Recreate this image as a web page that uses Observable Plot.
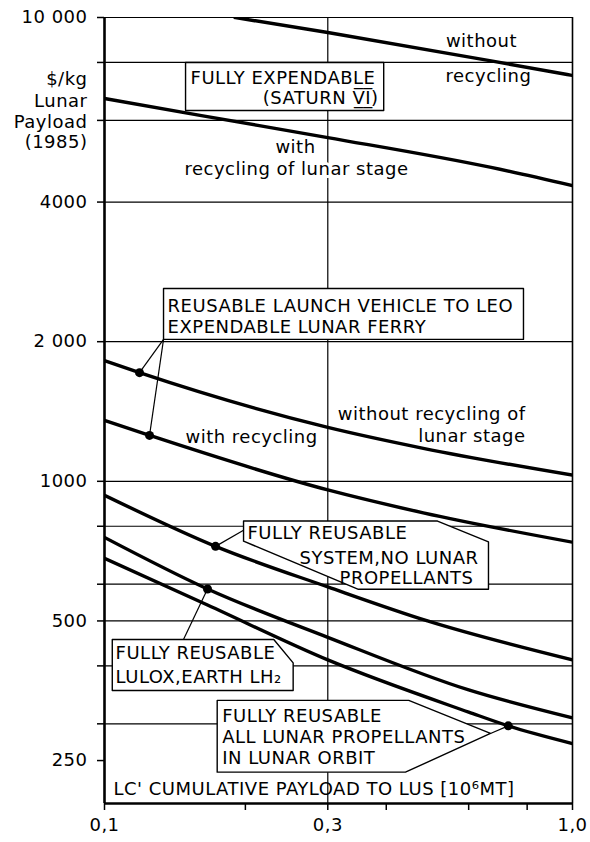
<!DOCTYPE html>
<html><head><meta charset="utf-8">
<script src="https://cdn.jsdelivr.net/npm/d3@7"></script>
<script src="https://cdn.jsdelivr.net/npm/@observablehq/plot@0.6"></script>
<style>body{margin:0;background:#fff}</style>
</head><body><div id="chart"></div>
<script>
// ---- axes / ticks ----
const xTicks = [0.1, 0.2, 0.3, 0.4, 0.6, 0.8, 1.0];
const xTickLabels = {0.1: "0,1", 0.3: "0,3", 1: "1,0"};
const yTicks = [250, 300, 400, 500, 600, 800, 1000, 2000, 4000, 6000, 8000, 10000];
const yGrid = [300, 400, 500, 600, 800, 1000, 2000, 4000, 6000, 8000, 10000];
const yTickLabels = {250: "250", 500: "500", 1000: "1000", 2000: "2 000", 4000: "4000", 10000: "10 000"};
const yTitle = ["$/kg", "Lunar", "Payload", "(1985)"];
const xTitle = "LC' CUMULATIVE PAYLOAD TO LUS [10⁶MT]";

// ---- series: [payload 10^6 MT, $/kg] ----
const saturnWithout = [[0.19, 10000], [0.3, 9280], [0.67, 8060], [1.0, 7500]];
const saturnWith = [[0.1, 6690], [0.16, 6150], [0.3, 5510], [0.67, 4750], [1.0, 4340]];
const rlvWithout = [[0.1, 1820], [0.1188, 1715], [0.3, 1307], [0.48, 1178], [1.0, 1031]];
const rlvWith = [[0.1, 1353], [0.1248, 1256], [0.3, 958], [0.48, 855], [1.0, 739]];
const reusableNoLunar = [[0.1, 933], [0.1727, 724], [0.3, 592], [0.49, 500], [1.0, 412]];
const reusableLulox = [[0.1, 757], [0.166, 586], [0.3, 461], [0.6, 355], [1.0, 309]];
const reusableAllLunar = [[0.1, 682], [0.166, 541], [0.3, 412], [0.6, 318], [0.729, 297], [1.0, 272]];
// marked points on curves
const markedPoints = [[0.1188, 1715], [0.1248, 1256], [0.1727, 724], [0.166, 586], [0.729, 297]];

const seriesList = [saturnWithout, saturnWith, rlvWithout, rlvWith, reusableNoLunar, reusableLulox, reusableAllLunar];
const rows = seriesList.flatMap((s, i) => s.map(([x, y]) => ({x, y, s: i})));
const dots = markedPoints.map(([x, y]) => ({x, y}));

// ---- annotation boxes (data coordinates) ----
const boxes = [
  {id: "saturn", pts: [[0.149, 8000], [0.395, 8000], [0.395, 6300], [0.149, 6300]]},
  {id: "rlv", pts: [[0.1337, 2605], [0.7857, 2605], [0.7857, 2023], [0.1337, 2023]]},
  {id: "noLunar", pts: [[0.1982, 821], [0.5147, 821], [0.6614, 740], [0.6614, 585], [0.3488, 585], [0.1982, 743]]},
  {id: "lulox", pts: [[0.1039, 456], [0.2300, 456], [0.2530, 406], [0.2530, 354], [0.1039, 354]]},
  {id: "allLunar", pts: [[0.1741, 337], [0.4468, 337], [0.6680, 286], [0.4396, 236], [0.1741, 236]]}
];
const boxRows = boxes.flatMap(b => b.pts.map(([x, y]) => ({x, y, id: b.id})));
const leaders = [
  {x1: 0.1337, y1: 2023, x2: 0.1188, y2: 1715},
  {x1: 0.1337, y1: 2023, x2: 0.1248, y2: 1256},
  {x1: 0.1982, y1: 784, x2: 0.1727, y2: 724},
  {x1: 0.1475, y1: 456, x2: 0.166, y2: 586},
  {x1: 0.668, y1: 286, x2: 0.729, y2: 297}
];

const labelsMiddle = [
  {x: 0.639, y: 8877, t: "without"},
  {x: 0.6614, y: 7461, t: "recycling"}
];
const labelsStart = [
  {x: 0.1527, y: 7400, t: "FULLY EXPENDABLE"},
  {x: 0.1364, y: 2384, t: "REUSABLE LAUNCH VEHICLE TO LEO"},
  {x: 0.1364, y: 2147, t: "EXPENDABLE LUNAR FERRY"},
  {x: 0.1489, y: 1244, t: "with recycling"},
  {x: 0.2021, y: 773, t: "FULLY REUSABLE"},
  {x: 0.1056, y: 426, t: "FULLY REUSABLE"},
  {x: 0.1056, y: 378, t: "LULOX,EARTH LH\u2082"},
  {x: 0.1784, y: 311.5, t: "FULLY REUSABLE"},
  {x: 0.1784, y: 281, t: "ALL LUNAR PROPELLANTS"},
  {x: 0.1784, y: 253, t: "IN LUNAR ORBIT"},
  {x: 0.1045, y: 217, t: xTitle}
];
const labelsEnd = [
  {x: 0.3851, y: 6690, t: "(SATURN V\u0332\u0305I\u0332\u0305)"},
  {x: 0.7938, y: 1394, t: "without recycling of"},
  {x: 0.7938, y: 1250, t: "lunar stage"},
  {x: 0.6297, y: 684, t: "SYSTEM,NO LUNAR"},
  {x: 0.6145, y: 619, t: "PROPELLANTS"}
];
const haloLabels = [
  {x: 0.2559, y: 5246, t: "with"},
  {x: 0.2572, y: 4704, t: "recycling of lunar stage"}
];
const yTitleY = [7353, 6592, 5939, 5379];

const font = "DejaVu Sans, sans-serif";
const fs = 18;
const chart = Plot.plot({
  width: 590, height: 842,
  marginTop: 17, marginBottom: 39, marginLeft: 104, marginRight: 18,
  style: {fontFamily: font, letterSpacing: "0.5px", background: "white", color: "black"},
  x: {type: "log", domain: [0.1, 1]},
  y: {type: "log", domain: [202, 10000]},
  marks: [
    Plot.ruleY(yGrid, {stroke: "black", strokeWidth: 1.2}),
    Plot.ruleX([0.3], {stroke: "black", strokeWidth: 1.2}),
    Plot.ruleX([1.0], {stroke: "black", strokeWidth: 1.6}),
    Plot.axisY({ticks: yTicks, tickSize: 7, tickPadding: 10, tickFormat: d => yTickLabels[d] ?? "", fontSize: fs, label: null, strokeWidth: 1.5}),
    Plot.axisX({ticks: xTicks, tickSize: 7, tickPadding: 8, tickFormat: d => xTickLabels[d] ?? "", fontSize: fs, label: null, strokeWidth: 1.5}),
    Plot.line(boxRows, {x: "x", y: "y", z: "id", curve: "linear-closed", fill: "white", stroke: "black", strokeWidth: 1.4}),
    Plot.text(haloLabels, {x: "x", y: "y", text: "t", fontSize: fs, fill: "black", stroke: "white", strokeWidth: 6}),
    Plot.line(rows, {x: "x", y: "y", z: "s", curve: "monotone-x", stroke: "black", strokeWidth: 3.4, clip: true}),
    Plot.link(leaders, {x1: "x1", y1: "y1", x2: "x2", y2: "y2", stroke: "black", strokeWidth: 1.2}),
    Plot.dot(dots, {x: "x", y: "y", r: 4.5, fill: "black"}),
    Plot.text(labelsMiddle, {x: "x", y: "y", text: "t", textAnchor: "middle", fontSize: fs, fill: "black"}),
    Plot.text(labelsStart, {x: "x", y: "y", text: "t", textAnchor: "start", fontSize: fs, fill: "black"}),
    Plot.text(labelsEnd, {x: "x", y: "y", text: "t", textAnchor: "end", fontSize: fs, fill: "black"}),
    Plot.text(yTitle, {x: () => 0.1, y: (d, i) => yTitleY[i], text: d => d, dx: -17, textAnchor: "end", fontSize: fs, fill: "black"}),
    Plot.ruleX([0.1], {stroke: "black", strokeWidth: 2.6}),
    Plot.ruleY([202], {stroke: "black", strokeWidth: 2.6})
  ]
});
document.getElementById("chart").appendChild(chart);
</script>
</body></html>
